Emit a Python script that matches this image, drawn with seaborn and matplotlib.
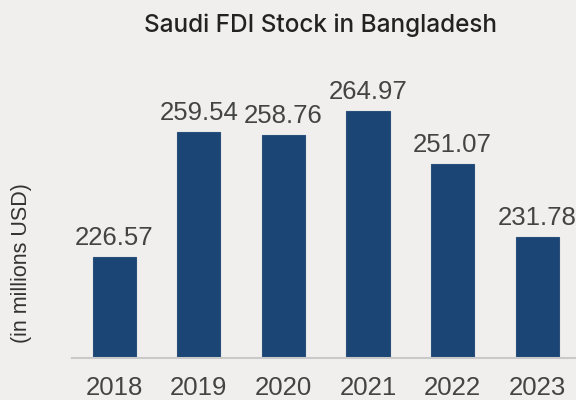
import matplotlib
matplotlib.use("Agg")
import matplotlib.pyplot as plt
import seaborn as sns
import pandas as pd

# data
years = ["2018", "2019", "2020", "2021", "2022", "2023"]
fdi_stock = [226.57, 259.54, 258.76, 264.97, 251.07, 231.78]

bg = "#f0efed"
bar_color = "#1b4575"
text_gray = "#444444"

sns.set_theme(style="white")
plt.rcParams["font.family"] = ["Liberation Sans", "DejaVu Sans"]

df = pd.DataFrame({"year": years, "value": fdi_stock})

fig = plt.figure(figsize=(5.76, 4.0), dpi=100, facecolor=bg)
ax = fig.add_axes([72 / 576, 1 - 358 / 400, 1 - 72 / 576, (358 - 54) / 400])
ax.set_facecolor(bg)

sns.barplot(data=df, x="year", y="value", color=bar_color, width=0.51,
            saturation=1, edgecolor="#2a4f7a", linewidth=0.8, ax=ax)

ax.set_ylim(200, 280)
ax.set_xlim(-0.5, 5.46)

for i, v in enumerate(fdi_stock):
    ax.annotate(f"{v:.2f}", (i, v), xytext=(0, 5), textcoords="offset points",
                ha="center", va="bottom", fontsize=18.5, color=text_gray)

sns.despine(ax=ax, left=True)
ax.spines["bottom"].set_color("#c9c9c9")
ax.spines["bottom"].set_linewidth(1.5)
ax.set_yticks([])
ax.set_xlabel("")
ax.set_ylabel("")
ax.tick_params(axis="x", length=0, pad=13, labelsize=18.5, labelcolor=text_gray)

fig.text(22 / 576, 1 - 263 / 400, "(in millions USD)", rotation=90, ha="center",
         va="center", fontsize=15.5, color="#333333")
fig.text(320 / 576, 1 - 25 / 400, "Saudi FDI Stock in Bangladesh", ha="center",
         va="center", fontsize=17.5, fontweight="medium", color="#222222",
         family=["Inter", "DejaVu Sans"])

fig.savefig("out.png", dpi=100, facecolor=bg)
